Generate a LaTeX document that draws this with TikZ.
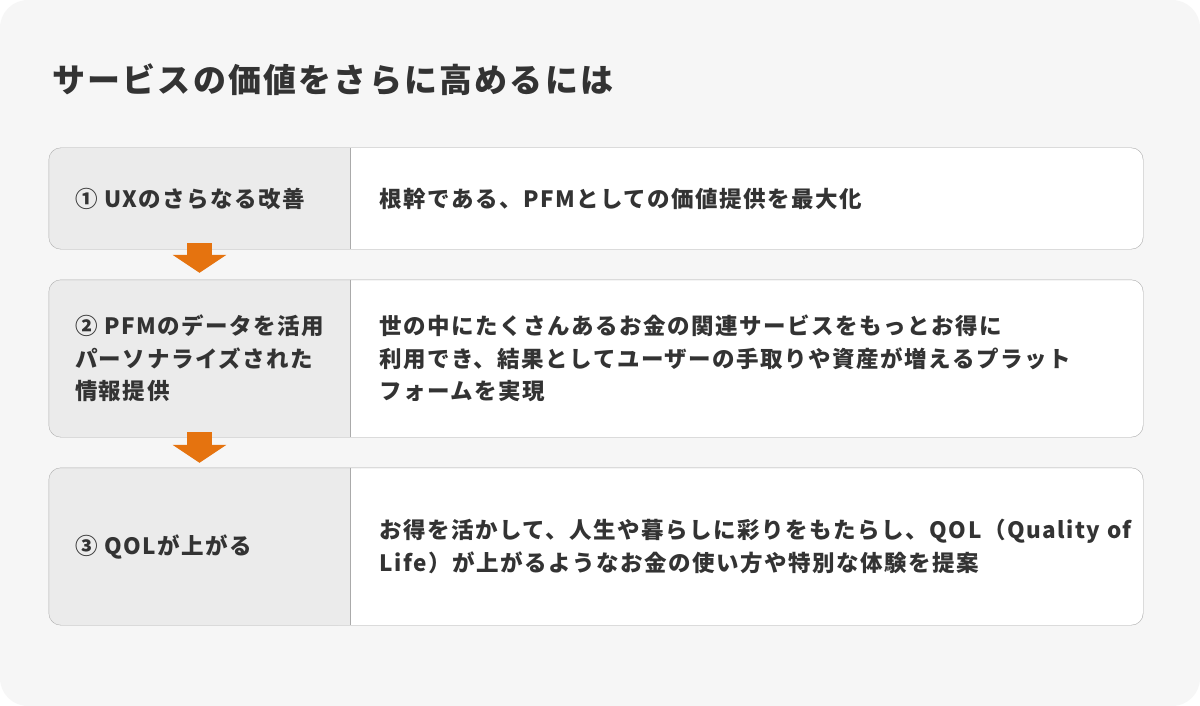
\documentclass[tikz,border=0pt]{standalone}
\usepackage{fontspec}
\setmainfont{Noto Sans CJK JP}[LetterSpace=6.7]
\usetikzlibrary{arrows.meta}
\definecolor{bgc}{HTML}{F6F6F6}
\definecolor{cellc}{HTML}{EBEBEB}
\definecolor{linec}{HTML}{AAAAAA}
\definecolor{textc}{HTML}{333333}
\definecolor{flowc}{HTML}{E5730F}
\tikzset{
  rowbox/.style={rectangle, fill=white, rounded corners=12pt, inner sep=0pt, minimum width=1094pt},
  cellbox/.style={rectangle, fill=cellc, rounded corners=12pt, inner sep=0pt, minimum width=301pt},
  txt/.style={anchor=west, align=left, inner sep=0pt, text=textc, font=\bfseries\fontsize{22.5}{32.5}\selectfont},
  flow/.style={draw=flowc, line width=25pt, -{Triangle[length=18pt,width=53pt]}}
}

\begin{document}
\begin{tikzpicture}[x=1pt, y=-1pt]
  \useasboundingbox (0,0) rectangle (1200,706);
  \fill[white] (0,0) rectangle (1200,706);
  \fill[bgc, rounded corners=28pt] (0,0) rectangle (1200,706);

  \node (title) [anchor=west, inner sep=0pt, text=textc, font=\bfseries\fontsize{33}{36}\selectfont] at (52,80) {サービスの価値をさらに高めるには};

  % rows
  \node (row1) [rowbox, minimum height=101pt] at (596,198.5) {};
  \node (row2) [rowbox, minimum height=157pt] at (596,358.5) {};
  \node (row3) [rowbox, minimum height=157pt] at (596,546.5) {};

  % left cells
  \node (cell1) [cellbox, minimum height=101pt] at (199.5,198.5) {};
  \node (cell2) [cellbox, minimum height=157pt] at (199.5,358.5) {};
  \node (cell3) [cellbox, minimum height=157pt] at (199.5,546.5) {};
  \foreach \c in {cell1,cell2,cell3}
    \fill[cellc] (\c.north) rectangle (\c.south east);

  \foreach \r/\c in {row1/cell1,row2/cell2,row3/cell3} {
    \draw[linec] (\c.north east) -- (\c.south east);
    \draw[linec, rounded corners=12pt] (\r.north west) rectangle (\r.south east);
  }

  % texts
  \node (lab1) [txt] at ([xshift=26pt]cell1.west) {① UXのさらなる改善};
  \node (lab2) [txt] at ([xshift=26pt]cell2.west) {② PFMのデータを活用\\パーソナライズされた\\情報提供};
  \node (lab3) [txt] at ([xshift=26pt]cell3.west) {③ QOLが上がる};

  \node (desc1) [txt] at ([xshift=29pt]cell1.east) {根幹である、PFMとしての価値提供を最大化};
  \node (desc2) [txt] at ([xshift=29pt]cell2.east) {世の中にたくさんあるお金の関連サービスをもっとお得に\\利用でき、結果としてユーザーの手取りや資産が増えるプラット\\フォームを実現};
  \node (desc3) [txt] at ([xshift=29pt]cell3.east) {お得を活かして、人生や暮らしに彩りをもたらし、QOL（Quality of\\Life）が上がるようなお金の使い方や特別な体験を提案};

  % arrows
  \draw[flow] ([yshift=6pt]cell1.south) -- ([yshift=7pt]cell2.north);
  \draw[flow] ([yshift=5pt]cell2.south) -- ([yshift=5pt]cell3.north);
\end{tikzpicture}
\end{document}
